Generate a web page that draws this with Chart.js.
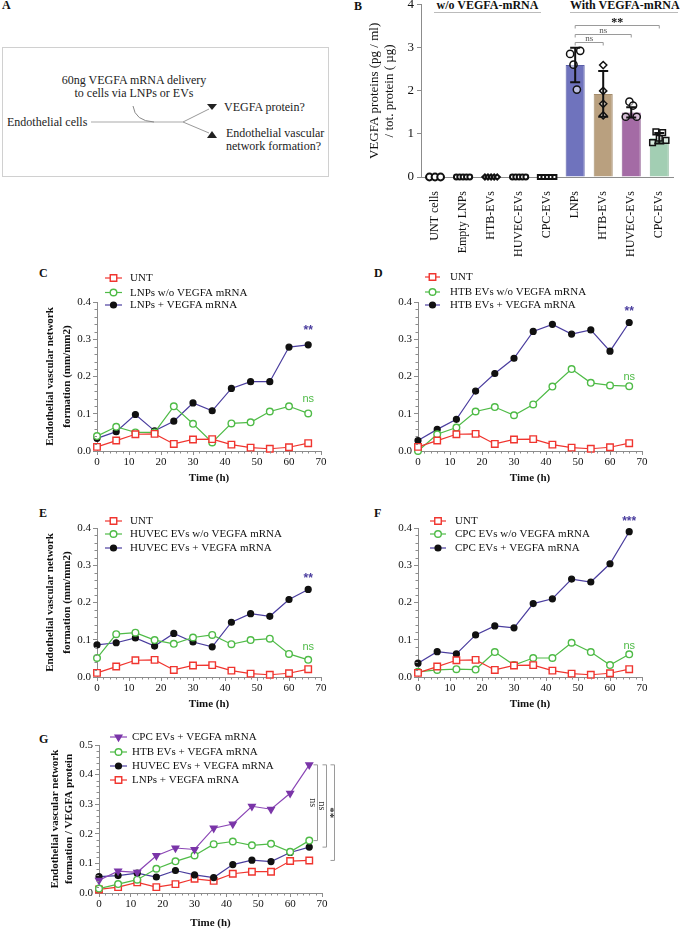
<!DOCTYPE html>
<html>
<head>
<meta charset="utf-8">
<script src="https://cdn.jsdelivr.net/npm/chart.js@4.4.0/dist/chart.umd.min.js"></script>
<style>
body { margin: 0; width: 680px; height: 930px; position: relative; overflow: hidden; background: #fff; font-family: "Liberation Serif", serif; color: #111; }
canvas, svg, .abs { position: absolute; }
.panel { position: absolute; font: bold 12px "Liberation Serif", serif; }
.hdr { position: absolute; font: bold 12px "Liberation Serif", serif; text-align: center; line-height: 13px; border-bottom: 1px solid #bbb; white-space: nowrap; }
</style>
</head>
<body>

<div class="panel" style="left:2px;top:-2px">A</div>
<div class="panel" style="left:354px;top:-1px">B</div>
<div class="panel" style="left:39px;top:266px">C</div>
<div class="panel" style="left:374px;top:266px">D</div>
<div class="panel" style="left:39px;top:506px">E</div>
<div class="panel" style="left:374px;top:506px">F</div>
<div class="panel" style="left:39px;top:732px">G</div>

<!-- panel A: schematic -->
<svg style="left:0;top:0" width="340" height="200" font-family="Liberation Serif, serif" font-size="12" fill="#222">
  <rect x="2.5" y="47.5" width="326" height="129" fill="none" stroke="#d0d0d0"/>
  <text x="134" y="84" text-anchor="middle">60ng VEGFA mRNA delivery</text>
  <text x="134" y="97" text-anchor="middle">to cells via LNPs or EVs</text>
  <text x="7" y="126">Endothelial cells</text>
  <line x1="91" y1="122" x2="183" y2="122" stroke="#aaa" stroke-width="1.2"/>
  <path d="M133 106 Q135 121 154 122" fill="none" stroke="#888" stroke-width="1"/>
  <line x1="183" y1="122" x2="209" y2="109" stroke="#999" stroke-width="1"/>
  <line x1="183" y1="122" x2="209" y2="133" stroke="#999" stroke-width="1"/>
  <polygon points="207,104 217,104 212,110" fill="#222"/>
  <polygon points="207,138 217,138 212,131" fill="#222"/>
  <text x="224" y="111">VEGFA protein?</text>
  <text x="226" y="137">Endothelial vascular</text>
  <text x="226" y="150">network formation?</text>
</svg>

<div class="hdr" style="left:434px;top:-1px;width:107px">w/o VEGFA-mRNA</div>
<div class="hdr" style="left:570px;top:-1px;width:108px">With VEGFA-mRNA</div>

<canvas id="chartB" width="340" height="266" style="left:340px;top:-6px"></canvas>
<canvas id="chartC" width="340" height="220" style="left:0;top:265px"></canvas>
<canvas id="chartD" width="340" height="220" style="left:340px;top:265px"></canvas>
<canvas id="chartE" width="340" height="221" style="left:0;top:490px"></canvas>
<canvas id="chartF" width="340" height="221" style="left:340px;top:490px"></canvas>
<canvas id="chartG" width="340" height="230" style="left:0;top:700px"></canvas>

<script>
// ---- data ----
// panel B: VEGFA protein per group
const vegfaGroups = ['UNT cells', 'Empty LNPs', 'HTB-EVs', 'HUVEC-EVs', 'CPC-EVs', 'LNPs', 'HTB-EVs', 'HUVEC-EVs', 'CPC-EVs'];
const vegfaMean = [0, 0, 0, 0, 0, 2.6, 1.93, 1.5, 0.9];
const vegfaLow = [0, 0, 0, 0, 0, 2.2, 1.4, 1.38, 0.78];
const vegfaHigh = [0, 0, 0, 0, 0, 3.0, 2.46, 1.62, 1.02];
const vegfaReplicates = [
    [0, 0, 0],
    [0, 0, 0, 0, 0],
    [0, 0, 0, 0, 0],
    [0, 0, 0, 0, 0],
    [0, 0, 0, 0, 0],
    [2.86, 2.61, 2.03, 2.93],
    [1.43, 2.6, 2.0, 1.7],
    [1.4, 1.75, 1.66, 1.4],
    [0.8, 1.05, 0.9, 1.03, 0.85]
];

// panels C-G: time course (h)
const hours = [0, 6, 12, 18, 24, 30, 36, 42, 48, 54, 60, 66];
const untValues = [0.011, 0.028, 0.045, 0.046, 0.019, 0.031, 0.032, 0.017, 0.009, 0.006, 0.010, 0.021];

const lnpNoMrna = [0.040, 0.065, 0.050, 0.050, 0.120, 0.073, 0.023, 0.074, 0.077, 0.106, 0.120, 0.101];
const lnpMrna = [0.034, 0.052, 0.098, 0.054, 0.080, 0.129, 0.108, 0.168, 0.186, 0.186, 0.279, 0.285];

const htbNoMrna = [0.0, 0.045, 0.063, 0.106, 0.118, 0.096, 0.125, 0.173, 0.220, 0.183, 0.176, 0.174];
const htbMrna = [0.028, 0.058, 0.085, 0.161, 0.208, 0.249, 0.321, 0.340, 0.314, 0.325, 0.268, 0.345];

const huvecNoMrna = [0.051, 0.115, 0.119, 0.099, 0.089, 0.106, 0.113, 0.088, 0.099, 0.103, 0.062, 0.046];
const huvecMrna = [0.086, 0.092, 0.105, 0.083, 0.117, 0.094, 0.081, 0.147, 0.170, 0.163, 0.208, 0.235];

const cpcNoMrna = [0.014, 0.019, 0.021, 0.020, 0.067, 0.032, 0.051, 0.051, 0.092, 0.067, 0.032, 0.061];
const cpcMrna = [0.037, 0.068, 0.062, 0.113, 0.137, 0.132, 0.197, 0.210, 0.263, 0.255, 0.304, 0.390];

// panel G: network formation normalised to VEGFA protein
const cpcPerProtein = [0.043, 0.074, 0.070, 0.126, 0.152, 0.147, 0.219, 0.233, 0.293, 0.283, 0.337, 0.433];
const htbPerProtein = [0.015, 0.030, 0.045, 0.082, 0.107, 0.127, 0.165, 0.174, 0.161, 0.166, 0.139, 0.177];
const huvecPerProtein = [0.055, 0.059, 0.067, 0.054, 0.076, 0.061, 0.052, 0.096, 0.111, 0.106, 0.137, 0.155];
const lnpPerProtein = [0.012, 0.020, 0.036, 0.020, 0.030, 0.048, 0.041, 0.065, 0.072, 0.072, 0.108, 0.110];

// ---- styles ----
const SERIF = '"Liberation Serif", "Times New Roman", serif';
const SANS = '"Liberation Sans", Arial, sans-serif';
const AXIS = '#8c8c8c';
const RED = '#f0352f', GREEN = '#4fbb47', NAVY = '#4a3d9e', PURPLE = '#8a45b5';

const redSquare = {line: RED, marker: 'rect', radius: 4.6, fill: '#fff', edge: RED};
const greenCircle = {line: GREEN, marker: 'circle', radius: 3.3, fill: '#fff', edge: GREEN};
const blackDot = {line: NAVY, marker: 'circle', radius: 2.9, fill: '#111', edge: '#111'};
const purpleTri = {line: PURPLE, marker: 'triangle', radius: 3.8, fill: '#7a35a8', edge: '#7a35a8', rot: 180};

function drawMarker(ctx, style, r, x, y) {
    ctx.beginPath();
    if (style === 'rect') {
        const s = r * Math.SQRT1_2;
        ctx.rect(x - s, y - s, 2 * s, 2 * s);
    } else if (style === 'triangle') {
        ctx.moveTo(x - r * 0.87, y - r / 2);
        ctx.lineTo(x + r * 0.87, y - r / 2);
        ctx.lineTo(x, y + r);
        ctx.closePath();
    } else {
        ctx.arc(x, y, r, 0, Math.PI * 2);
    }
    ctx.fill();
    ctx.stroke();
}

// legend stacked one entry per row
const stackLegend = {
    id: 'stackLegend',
    afterDraw(chart, args, opts) {
        if (!opts.rows) return;
        const ctx = chart.ctx;
        ctx.save();
        chart.data.datasets.forEach((ds, i) => {
            const y = opts.rows[i];
            ctx.strokeStyle = ds.borderColor;
            ctx.lineWidth = ds.borderWidth;
            ctx.beginPath();
            ctx.moveTo(opts.x0, y);
            ctx.lineTo(opts.x1, y);
            ctx.stroke();
            ctx.fillStyle = ds.pointBackgroundColor;
            ctx.strokeStyle = ds.pointBorderColor;
            ctx.lineWidth = ds.pointBorderWidth;
            drawMarker(ctx, ds.pointStyle, ds.pointRadius, (opts.x0 + opts.x1) / 2, y);
            ctx.fillStyle = '#111';
            ctx.font = '11px ' + SERIF;
            ctx.textBaseline = 'middle';
            ctx.fillText(ds.label, opts.tx, y + 0.5);
        });
        ctx.restore();
    }
};

// small ticks between labelled ticks
const minorTicks = {
    id: 'minorTicks',
    afterDraw(chart, args, opts) {
        if (!opts.x) return;
        const {ctx, chartArea} = chart;
        const xs = chart.scales.x, ys = chart.scales.y;
        ctx.save();
        ctx.strokeStyle = AXIS;
        ctx.lineWidth = 1;
        ctx.beginPath();
        const nx = Math.round((xs.max - xs.min) / opts.x);
        for (let i = 1; i < nx; i++) {
            if (i % opts.xEvery === 0) continue;
            const px = Math.round(xs.getPixelForValue(xs.min + i * opts.x)) + 0.5;
            ctx.moveTo(px, chartArea.bottom);
            ctx.lineTo(px, chartArea.bottom + 2.5);
        }
        const ny = Math.round((ys.max - ys.min) / opts.y);
        for (let i = 1; i < ny; i++) {
            if (i % opts.yEvery === 0) continue;
            const py = Math.round(ys.getPixelForValue(ys.min + i * opts.y)) + 0.5;
            ctx.moveTo(chartArea.left, py);
            ctx.lineTo(chartArea.left - 2.5, py);
        }
        ctx.stroke();
        ctx.restore();
    }
};

// significance text placed at data coordinates
const sigMarks = {
    id: 'sigMarks',
    afterDraw(chart, args, opts) {
        if (!opts.items) return;
        const ctx = chart.ctx;
        ctx.save();
        ctx.textAlign = 'center';
        ctx.textBaseline = 'middle';
        opts.items.forEach(m => {
            ctx.fillStyle = m.color;
            ctx.font = m.font;
            ctx.fillText(m.text, chart.scales.x.getPixelForValue(m.x), chart.scales.y.getPixelForValue(m.y));
        });
        ctx.restore();
    }
};

// vertical brackets to the right of panel G, from the last point of dataset 0 to another dataset
const sideBrackets = {
    id: 'sideBrackets',
    afterDraw(chart, args, opts) {
        if (!opts.items) return;
        const {ctx, chartArea} = chart;
        const ys = chart.scales.y;
        const top = chart.data.datasets[0].data;
        const yTop = ys.getPixelForValue(top[top.length - 1].y);
        ctx.save();
        opts.items.forEach(b => {
            const d = chart.data.datasets[b.to].data;
            const yBot = ys.getPixelForValue(d[d.length - 1].y);
            const x = Math.round(chartArea.right + b.dx) + 0.5;
            ctx.strokeStyle = '#9a9a9a';
            ctx.lineWidth = 1;
            ctx.beginPath();
            ctx.moveTo(x - 4, yTop); ctx.lineTo(x, yTop); ctx.lineTo(x, yBot); ctx.lineTo(x - 4, yBot);
            ctx.stroke();
            ctx.save();
            ctx.translate(x - 5, (yTop + yBot) / 2);
            ctx.rotate(Math.PI / 2);
            ctx.fillStyle = '#333';
            ctx.font = b.font;
            ctx.textAlign = 'center';
            ctx.textBaseline = 'middle';
            ctx.fillText(b.text, 0, 0);
            ctx.restore();
        });
        ctx.restore();
    }
};

function lineChart(id, series, cfg) {
    return new Chart(document.getElementById(id), {
        type: 'line',
        data: {
            datasets: series.map(s => ({
                label: s.label,
                data: hours.map((h, i) => ({x: h, y: s.values[i]})),
                borderColor: s.style.line,
                borderWidth: 1.2,
                pointStyle: s.style.marker,
                pointRadius: s.style.radius,
                pointRotation: s.style.rot || 0,
                pointBackgroundColor: s.style.fill,
                pointBorderColor: s.style.edge,
                pointBorderWidth: 1.4,
                tension: 0,
                clip: false
            }))
        },
        options: {
            responsive: false,
            animation: false,
            layout: {padding: {top: cfg.top, right: cfg.right, left: 0, bottom: 0}},
            plugins: {
                legend: {display: false},
                tooltip: {enabled: false},
                stackLegend: cfg.legend,
                minorTicks: {x: 2, xEvery: 5, y: 0.02, yEvery: 5},
                sigMarks: {items: cfg.marks || []},
                sideBrackets: {items: cfg.brackets || null}
            },
            scales: {
                x: {
                    type: 'linear', min: 0, max: 70,
                    ticks: {stepSize: 10, color: '#111', padding: 1, font: {family: SERIF, size: 11}},
                    grid: {drawOnChartArea: false, tickLength: 4, color: AXIS},
                    border: {color: AXIS},
                    title: {display: true, text: 'Time (h)', color: '#111', padding: 0, font: {family: SERIF, size: 11, weight: 'bold'}},
                    afterFit(s) { s.height = cfg.xh; }
                },
                y: {
                    min: 0, max: cfg.ymax,
                    ticks: {stepSize: 0.1, color: '#111', padding: 2, font: {family: SERIF, size: 11}, callback: v => v.toFixed(1)},
                    grid: {drawOnChartArea: false, tickLength: 4, color: AXIS},
                    border: {color: AXIS},
                    title: cfg.ytitle ? {
                        display: true, text: cfg.ytitle, color: '#111',
                        padding: {top: cfg.ytitlePad, bottom: 0},
                        font: {family: SERIF, size: 11, weight: 'bold', lineHeight: cfg.ytitleLh}
                    } : {display: false},
                    afterFit(s) { s.width = cfg.yw; }
                }
            }
        },
        plugins: [minorTicks, stackLegend, sigMarks, sideBrackets]
    });
}

const starFont = 'bold 12px ' + SANS;
const nsFont = '11px ' + SANS;
const mmTitle = ['Endothelial vascular network', 'formation (mm/mm2)'];

// C
lineChart('chartC', [
    {label: 'UNT', values: untValues, style: redSquare},
    {label: 'LNPs w/o VEGFA mRNA', values: lnpNoMrna, style: greenCircle},
    {label: 'LNPs + VEGFA mRNA', values: lnpMrna, style: blackDot}
], {
    top: 37, right: 19, yw: 97, xh: 34, ymax: 0.4,
    ytitle: mmTitle, ytitlePad: 41, ytitleLh: 1.6,
    legend: {x0: 105, x1: 122, tx: 130, rows: [13, 27.5, 40]},
    marks: [{x: 66, y: 0.322, text: '**', color: NAVY, font: starFont}, {x: 66, y: 0.139, text: 'ns', color: GREEN, font: nsFont}]
});

// D
lineChart('chartD', [
    {label: 'UNT', values: untValues, style: redSquare},
    {label: 'HTB EVs w/o VEGFA mRNA', values: htbNoMrna, style: greenCircle},
    {label: 'HTB EVs + VEGFA mRNA', values: htbMrna, style: blackDot}
], {
    top: 37, right: 38, yw: 78, xh: 34, ymax: 0.4,
    legend: {x0: 85, x1: 100, tx: 110, rows: [12, 27, 40]},
    marks: [{x: 66, y: 0.373, text: '**', color: NAVY, font: starFont}, {x: 66, y: 0.2, text: 'ns', color: GREEN, font: nsFont}]
});

// E
lineChart('chartE', [
    {label: 'UNT', values: untValues, style: redSquare},
    {label: 'HUVEC EVs w/o VEGFA mRNA', values: huvecNoMrna, style: greenCircle},
    {label: 'HUVEC EVs + VEGFA mRNA', values: huvecMrna, style: blackDot}
], {
    top: 38, right: 19, yw: 97, xh: 34, ymax: 0.4,
    ytitle: mmTitle, ytitlePad: 41, ytitleLh: 1.6,
    legend: {x0: 105, x1: 122, tx: 130, rows: [31, 44, 58]},
    marks: [{x: 66, y: 0.263, text: '**', color: NAVY, font: starFont}, {x: 66, y: 0.08, text: 'ns', color: GREEN, font: nsFont}]
});

// F
lineChart('chartF', [
    {label: 'UNT', values: untValues, style: redSquare},
    {label: 'CPC EVs w/o VEGFA mRNA', values: cpcNoMrna, style: greenCircle},
    {label: 'CPC EVs + VEGFA mRNA', values: cpcMrna, style: blackDot}
], {
    top: 38, right: 38, yw: 78, xh: 34, ymax: 0.4,
    legend: {x0: 90, x1: 106, tx: 115, rows: [31, 44, 58]},
    marks: [{x: 66, y: 0.416, text: '***', color: NAVY, font: starFont}, {x: 66, y: 0.083, text: 'ns', color: GREEN, font: nsFont}]
});

// G
lineChart('chartG', [
    {label: 'CPC EVs + VEGFA mRNA', values: cpcPerProtein, style: purpleTri},
    {label: 'HTB EVs + VEGFA mRNA', values: htbPerProtein, style: greenCircle},
    {label: 'HUVEC EVs + VEGFA mRNA', values: huvecPerProtein, style: blackDot},
    {label: 'LNPs + VEGFA mRNA', values: lnpPerProtein, style: redSquare}
], {
    top: 45, right: 18, yw: 99, xh: 37, ymax: 0.5,
    ytitle: ['Endothelial vascular network', 'formation / VEGFA protein'], ytitlePad: 49, ytitleLh: 1.2,
    legend: {x0: 110, x1: 127, tx: 132, rows: [37, 52, 66, 80]},
    brackets: [
        {to: 1, dx: -5, text: 'ns', font: '10px ' + SERIF},
        {to: 2, dx: 4, text: 'ns', font: '10px ' + SERIF},
        {to: 3, dx: 12, text: '**', font: 'bold 11px ' + SERIF}
    ]
});

// ---- panel B ----
const barFill = ['rgba(0,0,0,0)', 'rgba(0,0,0,0)', 'rgba(0,0,0,0)', 'rgba(0,0,0,0)', 'rgba(0,0,0,0)', '#6f73bd', '#b9a07f', '#a46ba5', '#a2ceb3'];
const barEdge = ['rgba(0,0,0,0)', 'rgba(0,0,0,0)', 'rgba(0,0,0,0)', 'rgba(0,0,0,0)', 'rgba(0,0,0,0)', '#5a5ea8', '#a48c6c', '#8f5a90', '#8bb89c'];
const repStyle = ['circle', 'circle', 'rectRot', 'circle', 'rect', 'circle', 'rectRot', 'circle', 'rect'];
const repRadius = [3.4, 2.4, 2.6, 2.4, 2.8, 3.6, 3.6, 3.6, 4];
const repSpread = [0.2, 0.12, 0.11, 0.12, 0.13, 0.12, 0.0, 0.13, 0.12];

// error bars drawn from the low/high arrays
const errorBars = {
    id: 'errorBars',
    afterDatasetsDraw(chart) {
        const {ctx} = chart;
        const xs = chart.scales.x, ys = chart.scales.y;
        ctx.save();
        ctx.strokeStyle = '#111';
        ctx.lineWidth = 2;
        vegfaMean.forEach((m, i) => {
            if (vegfaHigh[i] === vegfaLow[i]) return;
            const x = xs.getPixelForValue(i);
            const y1 = ys.getPixelForValue(vegfaLow[i]), y2 = ys.getPixelForValue(vegfaHigh[i]);
            ctx.beginPath();
            ctx.moveTo(x, y1); ctx.lineTo(x, y2);
            ctx.moveTo(x - 5, y1); ctx.lineTo(x + 5, y1);
            ctx.moveTo(x - 5, y2); ctx.lineTo(x + 5, y2);
            ctx.stroke();
        });
        ctx.restore();
    }
};

// horizontal significance brackets between groups
const topBrackets = {
    id: 'topBrackets',
    afterDraw(chart, args, opts) {
        const {ctx} = chart;
        const xs = chart.scales.x, ys = chart.scales.y;
        ctx.save();
        opts.items.forEach(b => {
            const x1 = xs.getPixelForValue(b.from), x2 = xs.getPixelForValue(b.to);
            const y = Math.round(ys.getPixelForValue(b.y)) + 0.5;
            ctx.strokeStyle = '#9a9a9a';
            ctx.lineWidth = 1;
            ctx.beginPath();
            ctx.moveTo(x1, y + 3); ctx.lineTo(x1, y); ctx.lineTo(x2, y); ctx.lineTo(x2, y + 3);
            ctx.stroke();
            ctx.fillStyle = b.color;
            ctx.font = b.font;
            ctx.textAlign = 'center';
            ctx.textBaseline = 'bottom';
            ctx.fillText(b.text, (x1 + x2) / 2, y + (b.text === '**' ? 3 : 1));
        });
        ctx.restore();
    }
};

new Chart(document.getElementById('chartB'), {
    type: 'bar',
    data: {
        labels: vegfaGroups,
        datasets: [
            {
                type: 'bar', data: vegfaMean, backgroundColor: barFill, borderColor: barEdge,
                borderWidth: 1, barPercentage: 0.68, categoryPercentage: 1, grouped: false, order: 2
            },
            ...vegfaReplicates.map((reps, i) => ({
                type: 'scatter', xAxisID: 'xj', order: 1, clip: false,
                data: reps.map((v, j) => ({x: i + (j - (reps.length - 1) / 2) * repSpread[i], y: v})),
                pointStyle: repStyle[i], pointRadius: repRadius[i],
                pointBackgroundColor: i >= 5 ? 'rgba(255,255,255,0.55)' : '#fff',
                pointBorderColor: '#111', pointBorderWidth: i >= 5 ? 1.5 : 2
            }))
        ]
    },
    options: {
        responsive: false,
        animation: false,
        layout: {padding: {top: 10, right: 5, left: 0, bottom: 0}},
        plugins: {
            legend: {display: false},
            tooltip: {enabled: false},
            topBrackets: {items: [
                {from: 5, to: 8, y: 3.53, text: '**', color: '#111', font: 'bold 12px ' + SERIF},
                {from: 5, to: 7, y: 3.33, text: 'ns', color: '#555', font: '9px ' + SERIF},
                {from: 5, to: 6, y: 3.14, text: 'ns', color: '#555', font: '9px ' + SERIF}
            ]}
        },
        scales: {
            x: {
                type: 'category', offset: true,
                grid: {display: false},
                border: {color: AXIS},
                ticks: {autoSkip: false, maxRotation: 90, minRotation: 90, padding: 6, color: '#111', font: {family: SERIF, size: 12}},
                afterFit(s) { s.height = 83; }
            },
            xj: {type: 'linear', display: false, offset: false, bounds: 'data', grace: 0, min: -0.5, max: 8.5},
            y: {
                min: 0, max: 4,
                ticks: {stepSize: 1, color: '#111', padding: 3, font: {family: SERIF, size: 13}},
                grid: {drawOnChartArea: false, tickLength: 4, color: AXIS},
                border: {color: AXIS},
                title: {
                    display: true, text: ['VEGFA proteins (pg / ml)', '/ tot. protein ( µg)'], color: '#111',
                    padding: {top: 27, bottom: 0}, font: {family: SERIF, size: 13, lineHeight: 1.15}
                },
                afterFit(s) { s.width = 81; }
            }
        }
    },
    plugins: [errorBars, topBrackets]
});
</script>
</body>
</html>
